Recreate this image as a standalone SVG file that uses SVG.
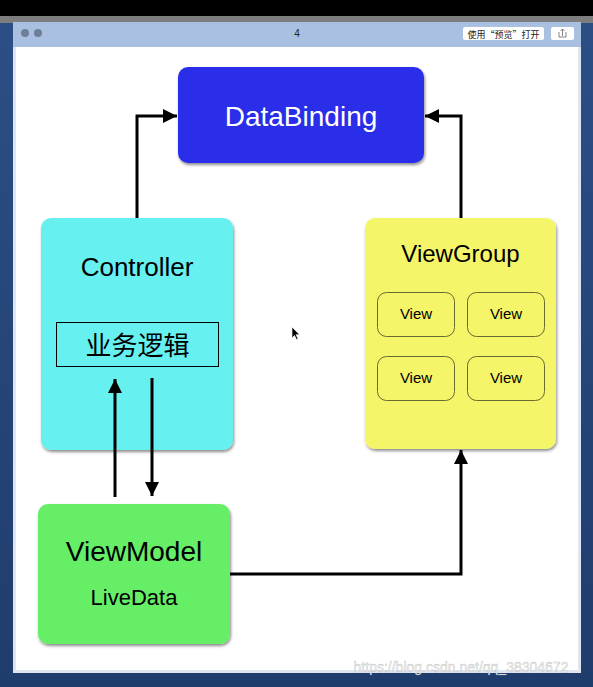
<svg xmlns="http://www.w3.org/2000/svg" width="593" height="687" viewBox="0 0 593 687">
<defs>
<linearGradient id="desk" x1="0" y1="0" x2="0" y2="1">
<stop offset="0" stop-color="#2c4f86"/>
<stop offset="1" stop-color="#1f3d6c"/>
</linearGradient>
<filter id="sh" x="-10%" y="-10%" width="125%" height="125%">
<feDropShadow dx="1" dy="2" stdDeviation="1.5" flood-color="#000" flood-opacity="0.45"/>
</filter>
<marker id="ah" viewBox="0 0 10 10" refX="10" refY="5" markerWidth="14" markerHeight="14" markerUnits="userSpaceOnUse" orient="auto">
<path d="M0,0 L10,5 L0,10 z" fill="#000"/>
</marker>
<style>
.t{font-family:"Helvetica Neue","Liberation Sans",Arial,sans-serif;text-anchor:middle}
.box{filter:url(#sh)}
.view{fill:none;stroke:#6b6a30;stroke-width:1}
.conn{fill:none;stroke:#000;stroke-width:3;marker-end:url(#ah)}
</style>
</defs>
<!-- desktop / window chrome -->
<rect x="0" y="0" width="593" height="687" fill="url(#desk)"/>
<rect x="0" y="0" width="593" height="16" fill="#000"/>
<rect x="0" y="16" width="593" height="7" fill="#7d7d7d"/>
<rect x="13" y="22" width="568" height="651" fill="#dfe6f0"/>
<rect x="13" y="22" width="568" height="25" fill="#aac0e0"/>
<circle cx="25" cy="33" r="4" fill="#6f7f97"/>
<circle cx="38" cy="33" r="4" fill="#6f7f97"/>
<text x="297" y="37" class="t" font-size="10" fill="#222">4</text>
<rect x="463" y="27" width="81" height="13" rx="2" fill="#fff"/>
<text x="503.5" y="37.5" class="t" font-size="9" fill="#222" style="font-family:'Noto Sans CJK SC',sans-serif">使用“预览”打开</text>
<rect x="551" y="27" width="23" height="13" rx="2" fill="#fff"/>
<path d="M559,32 v5 h7 v-5 M562.5,36 v-7 M560.5,31 l2,-2 l2,2" fill="none" stroke="#666" stroke-width="0.8"/>
<rect x="16" y="47" width="562" height="623" fill="#fff"/>

<g id="databinding">
<rect class="box" x="178" y="67" width="246" height="96" rx="10" fill="#2b2ee8"/>
<text x="301" y="126" class="t" font-size="28" fill="#fff">DataBinding</text>
</g>

<g id="controller">
<rect class="box" x="41" y="218" width="192" height="232" rx="10" fill="#66f0f0"/>
<text x="137" y="276" class="t" font-size="26" fill="#000">Controller</text>
<g id="business-logic">
<rect x="56.5" y="322.5" width="162" height="44" fill="none" stroke="#000" stroke-width="1"/>
<text x="137.5" y="355" class="t" font-size="26" fill="#000" style="font-family:'Noto Sans CJK SC',sans-serif">业务逻辑</text>
</g>
</g>

<g id="viewgroup">
<rect class="box" x="365" y="218" width="191" height="231" rx="10" fill="#f5f56a"/>
<text x="460.5" y="262" class="t" font-size="24" fill="#000">ViewGroup</text>
<g id="view1"><rect class="view" x="377.5" y="292.5" width="77" height="44" rx="9"/><text x="416" y="319" class="t" font-size="15">View</text></g>
<g id="view2"><rect class="view" x="467.5" y="292.5" width="77" height="44" rx="9"/><text x="506" y="319" class="t" font-size="15">View</text></g>
<g id="view3"><rect class="view" x="377.5" y="356.5" width="77" height="44" rx="9"/><text x="416" y="383" class="t" font-size="15">View</text></g>
<g id="view4"><rect class="view" x="467.5" y="356.5" width="77" height="44" rx="9"/><text x="506" y="383" class="t" font-size="15">View</text></g>
</g>

<g id="viewmodel">
<rect class="box" x="38" y="504" width="192" height="140" rx="10" fill="#66ee66"/>
<text x="134" y="561" class="t" font-size="28" fill="#000">ViewModel</text>
<text x="134" y="605" class="t" font-size="22" fill="#000">LiveData</text>
</g>

<g id="connectors">
<path class="conn" d="M137,218 V116 H177"/>
<path class="conn" d="M461,218 V116 H425"/>
<path class="conn" d="M230,574 H461 V450"/>
<path class="conn" d="M115,497 V379"/>
<path class="conn" d="M152,378 V496"/>
</g>

<path d="M292,327 v11 l2.5,-2.5 l2,4 l1.5,-0.8 l-2,-4 h3.5 z" fill="#000" stroke="#fff" stroke-width="0.6"/>

<text x="461" y="672" class="t" font-size="14" fill="#f2f2f2" stroke="#9a9a9a" stroke-width="0.4" stroke-opacity="0.6">https://blog.csdn.net/qq_38304672</text>
</svg>
